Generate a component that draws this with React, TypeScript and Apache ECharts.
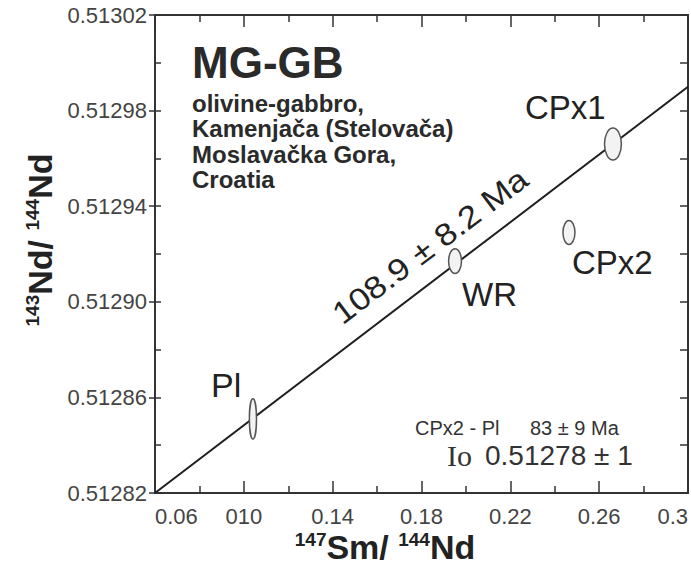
import React, { useEffect, useRef } from "react";
import * as echarts from "echarts";

// ---- data ----
const sampleNames = ["Pl", "WR", "CPx2", "CPx1"];
const smNd = [0.1041, 0.1951, 0.2464, 0.2662]; // 147Sm/144Nd
const ndNd = [0.512851, 0.512917, 0.512929, 0.512966]; // 143Nd/144Nd
const smNdErr = [0.0016, 0.0029, 0.0027, 0.0038];
const ndNdErr = [0.0000084, 0.0000052, 0.000005, 0.0000067];

const isochronX = [0.06, 0.3];
const isochronY = [0.51282, 0.51299];

const X_MIN = 0.06;
const X_MAX = 0.3;
const X_STEP = 0.04;
const xTickLabels = ["0.06", "010", "0.14", "0.18", "0.22", "0.26", "0.3"];

const Y_MIN = 0.51282;
const Y_MAX = 0.51302;
const Y_STEP = 0.00004;
const yTickLabels = ["0.51282", "0.51286", "0.51290", "0.51294", "0.51298", "0.51302"];

const FONT = "Liberation Sans";
const INK = "#222";
const AXIS = "#333";

export default function App() {
  const ref = useRef<HTMLDivElement>(null);

  useEffect(() => {
    if (!ref.current) return;
    const chart = echarts.init(ref.current, undefined, { renderer: "svg" });

    const ellipseData = smNd.map((x, i) => [x, ndNd[i], smNdErr[i], ndNdErr[i]]);
    const lineData = isochronX.map((x, i) => [x, isochronY[i]]);

    const txt = (
      text: string,
      x: number,
      y: number,
      fontSize: number,
      opts: any = {}
    ) => ({
      type: "text",
      x,
      y,
      z: 100,
      rotation: opts.rotation || 0,
      scaleX: opts.scaleX || 1,
      style: {
        text,
        x: 0,
        y: 0,
        fill: opts.fill || INK,
        fontSize,
        lineHeight: fontSize,
        fontFamily: opts.fontFamily || FONT,
        fontWeight: opts.fontWeight || "normal",
        align: opts.align || "left",
        verticalAlign: "middle",
      },
    });

    const option: any = {
      animation: false,
      backgroundColor: "#ffffff",
      textStyle: { fontFamily: FONT },
      grid: { left: 155, right: 2, top: 15, bottom: 72, containLabel: false },
      xAxis: [
        {
          type: "value",
          position: "bottom",
          min: X_MIN,
          max: X_MAX,
          interval: X_STEP,
          splitLine: { show: false },
          axisLine: { show: true, lineStyle: { color: AXIS, width: 2 } },
          axisTick: { show: true, inside: true, length: 12, lineStyle: { color: AXIS, width: 1.5 } },
          minorTick: { show: true, splitNumber: 2, length: 7, lineStyle: { color: AXIS, width: 1.5 } },
          axisLabel: {
            show: true,
            margin: 12,
            fontSize: 22,
            color: "#444",
            fontFamily: FONT,
            alignMinLabel: "left",
            alignMaxLabel: "right",
            formatter: (v: number) => xTickLabels[Math.round((v - X_MIN) / X_STEP)] ?? "",
          },
        },
        {
          type: "value",
          position: "top",
          min: X_MIN,
          max: X_MAX,
          interval: X_STEP,
          splitLine: { show: false },
          axisLine: { show: true, lineStyle: { color: AXIS, width: 2 } },
          axisTick: { show: true, inside: true, length: 12, lineStyle: { color: AXIS, width: 1.5 } },
          minorTick: { show: true, splitNumber: 2, length: 7, lineStyle: { color: AXIS, width: 1.5 } },
          axisLabel: { show: false },
        },
      ],
      yAxis: [
        {
          type: "value",
          position: "left",
          min: Y_MIN,
          max: Y_MAX,
          interval: Y_STEP,
          splitLine: { show: false },
          axisLine: { show: true, lineStyle: { color: AXIS, width: 2 } },
          axisTick: { show: true, inside: false, length: 6, lineStyle: { color: AXIS, width: 1.5 } },
          axisLabel: {
            show: true,
            margin: 8,
            fontSize: 22,
            color: "#444",
            fontFamily: FONT,
            formatter: (v: number) => yTickLabels[Math.round((v - Y_MIN) / Y_STEP)] ?? "",
          },
        },
        {
          type: "value",
          position: "left",
          min: Y_MIN,
          max: Y_MAX,
          interval: Y_STEP / 2,
          splitLine: { show: false },
          axisLine: { show: false },
          axisTick: { show: true, inside: true, length: 6, lineStyle: { color: AXIS, width: 1.5 } },
          axisLabel: { show: false },
        },
        {
          type: "value",
          position: "right",
          min: Y_MIN,
          max: Y_MAX,
          interval: Y_STEP / 2,
          splitLine: { show: false },
          axisLine: { show: true, lineStyle: { color: AXIS, width: 2 } },
          axisTick: { show: true, inside: true, length: 8, lineStyle: { color: AXIS, width: 1.5 } },
          axisLabel: { show: false },
        },
      ],
      series: [
        {
          type: "line",
          name: "isochron",
          xAxisIndex: 0,
          yAxisIndex: 0,
          data: lineData,
          symbol: "none",
          lineStyle: { color: "#1e1e1e", width: 2 },
          z: 2,
        },
        {
          type: "custom",
          name: "samples",
          xAxisIndex: 0,
          yAxisIndex: 0,
          data: ellipseData,
          encode: { x: 0, y: 1 },
          z: 3,
          renderItem: (params: any, api: any) => {
            const c = api.coord([api.value(0), api.value(1)]);
            const s = api.size([api.value(2), api.value(3)]);
            return {
              type: "ellipse",
              shape: { cx: c[0], cy: c[1], rx: s[0], ry: s[1] },
              style: { fill: "#f3f3f3", stroke: "#555", lineWidth: 1.5 },
            };
          },
        },
      ],
      graphic: [
        txt("MG-GB", 192, 62, 44, { fontWeight: "bold", fill: "#2a2a2a" }),
        txt("olivine-gabbro,", 192, 103, 24, { fontWeight: "bold", fill: "#2a2a2a" }),
        txt("Kamenjača (Stelovača)", 192, 128.5, 24, { fontWeight: "bold", fill: "#2a2a2a" }),
        txt("Moslavačka Gora,", 192, 154, 24, { fontWeight: "bold", fill: "#2a2a2a" }),
        txt("Croatia", 192, 179.5, 24, { fontWeight: "bold", fill: "#2a2a2a" }),
        txt(sampleNames[3], 525, 107, 33),
        txt(sampleNames[2], 572, 262, 33),
        txt(sampleNames[1], 462, 294, 33),
        txt(sampleNames[0], 211, 385, 34),
        txt("108.9 ± 8.2 Ma", 430, 246, 31, {
          align: "center",
          rotation: (37 * Math.PI) / 180,
          scaleX: 1.14,
        }),
        txt("CPx2 - Pl", 415, 428, 20, { fill: "#333" }),
        txt("83 ± 9 Ma", 530, 428, 20, { fill: "#333" }),
        txt("Io", 447, 455, 30, { fontFamily: "Liberation Serif", fill: "#333" }),
        txt("0.51278 ± 1", 485, 455, 28, { fill: "#333" }),
        {
          type: "text",
          x: 385,
          y: 547,
          z: 100,
          style: {
            text: "{sup|147}{m|Sm/ }{sup|144}{m|Nd}",
            x: 0,
            y: 0,
            align: "center",
            verticalAlign: "middle",
            fill: INK,
            fontFamily: FONT,
            rich: {
              sup: { fontSize: 19, fontWeight: "bold", fontFamily: FONT, fill: INK, verticalAlign: "top" },
              m: { fontSize: 34, fontWeight: "bold", fontFamily: FONT, fill: INK },
            },
          },
        },
        {
          type: "text",
          x: 40,
          y: 240,
          z: 100,
          rotation: Math.PI / 2,
          style: {
            text: "{sup|143}{m|Nd/ }{sup|144}{m|Nd}",
            x: 0,
            y: 0,
            align: "center",
            verticalAlign: "middle",
            fill: INK,
            fontFamily: FONT,
            rich: {
              sup: { fontSize: 19, fontWeight: "bold", fontFamily: FONT, fill: INK, verticalAlign: "top" },
              m: { fontSize: 34, fontWeight: "bold", fontFamily: FONT, fill: INK },
            },
          },
        },
      ],
    };

    chart.setOption(option);
    return () => chart.dispose();
  }, []);

  return (
    <div
      ref={ref}
      style={{ position: "fixed", left: 0, top: 0, width: 691, height: 565, background: "#fff" }}
    />
  );
}
